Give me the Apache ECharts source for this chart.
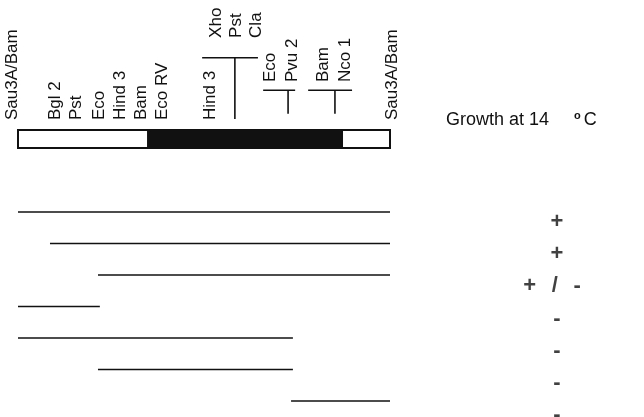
<!DOCTYPE html>
<html>
<head>
<meta charset="utf-8">
<script src="https://cdn.jsdelivr.net/npm/echarts@6/dist/echarts.min.js"></script>
<style>
  html, body { margin: 0; padding: 0; background: #fff; }
  #chart { width: 644px; height: 417px; }
</style>
</head>
<body>
<div id="chart"></div>
<script>
// map positions are in % of the cloned fragment (0 = left Sau3A/Bam end)
const mapSegStart = [0, 35, 87.1]
const mapSegEnd = [35, 87.1, 100]
const mapSegFilled = [0, 1, 0]

const siteNames = ['Sau3A/Bam', 'Bgl 2', 'Pst', 'Eco', 'Hind 3', 'Bam', 'Eco RV', 'Hind 3', 'Sau3A/Bam']
const sitePos = [-1.6, 9.9, 15.6, 21.8, 27.4, 33.1, 38.7, 51.6, 100.5]

// clustered sites: stem position, bracket span, labels
const clusterStem = [58.3, 72.6, 85.2]
const clusterFrom = [49.5, 65.9, 78.0]
const clusterTo = [64.5, 74.5, 89.8]
const clusterTier = [1, 2, 2]
const clusterNames = [['Xho', 'Pst', 'Cla'], ['Eco', 'Pvu 2'], ['Bam', 'Nco 1']]
const clusterPos = [[53.2, 58.6, 64.0], [67.7, 73.7], [82.0, 87.9]]

// subclones
const fragStart = [0, 8.6, 21.5, 0, 0, 21.5, 73.4]
const fragEnd = [100, 100, 100, 22, 73.9, 73.9, 100]
const growth = ['+', '+', '+ / -', '-', '-', '-', '-']

// heights above the map, in map-box units
const LABEL_BASE = 1.55
const TIER = {
  1: { bar: 5.0, text: 6.1, stemEnd: 1.6 },
  2: { bar: 3.2, text: 3.65, stemEnd: 1.9 }
}
const FONT = '"Liberation Sans", Arial, Helvetica, sans-serif'
const INK = '#111'

function vText (api, x, y, txt) {
  const p = api.coord([x, y])
  return {
    type: 'text',
    x: p[0],
    y: p[1],
    rotation: Math.PI / 2,
    style: {
      text: txt,
      fill: INK,
      font: '17px ' + FONT,
      align: 'left',
      verticalAlign: 'middle'
    }
  }
}

const chart = echarts.init(document.getElementById('chart'))

const mapData = mapSegStart.map((s, i) => [s, mapSegEnd[i], mapSegFilled[i]])
const siteData = sitePos.map((p, i) => [p, LABEL_BASE, i])
const clusterData = clusterStem.map((s, i) => [s, clusterFrom[i], clusterTo[i], i])
const fragData = fragStart.map((s, i) => [s, fragEnd[i], i + 1])
const growthData = growth.map((g, i) => {
  const item = { name: g, value: [0.5, i + 1] }
  if (g.length > 1) {
    item.label = {
      offset: [-5, 0],
      formatter: '{b|+}{g|  }{n|/}{g|  }{b|-}',
      rich: {
        b: { fontFamily: FONT, fontSize: 22, fontWeight: 'bold', color: INK },
        n: { fontFamily: FONT, fontSize: 22, color: INK },
        g: { fontFamily: FONT, fontSize: 28, color: INK }
      }
    }
  }
  return item
})

chart.setOption({
  animation: false,
  backgroundColor: '#fff',
  title: {
    left: 441,
    top: 105,
    text: '{a|Growth at 14     }{s|o}{a|C}',
    textStyle: {
      rich: {
        a: { fontFamily: FONT, fontSize: 18, color: INK, fontWeight: 'normal' },
        s: { fontFamily: FONT, fontSize: 11, color: INK, verticalAlign: 'top', padding: [0, 3, 9, 0] }
      }
    }
  },
  grid: [
    { left: 18, width: 372, top: 0, height: 148 },
    { left: 18, width: 372, top: 212, height: 189 },
    { left: 507, width: 100, top: 222, height: 193 }
  ],
  xAxis: [
    { gridIndex: 0, type: 'value', min: 0, max: 100, show: false },
    { gridIndex: 1, type: 'value', min: 0, max: 100, show: false },
    { gridIndex: 2, type: 'value', min: 0, max: 1, show: false }
  ],
  yAxis: [
    { gridIndex: 0, type: 'value', min: 0, max: 8.2, show: false },
    { gridIndex: 1, type: 'value', min: 1, max: 7, inverse: true, show: false },
    { gridIndex: 2, type: 'value', min: 1, max: 7, inverse: true, show: false }
  ],
  series: [
    {
      type: 'custom',
      xAxisIndex: 0,
      yAxisIndex: 0,
      data: mapData,
      renderItem: function (params, api) {
        const p0 = api.coord([api.value(0), 1])
        const p1 = api.coord([api.value(1), 0])
        return {
          type: 'rect',
          shape: { x: p0[0], y: p0[1], width: p1[0] - p0[0], height: p1[1] - p0[1] },
          style: { fill: api.value(2) ? INK : '#fff', stroke: INK, lineWidth: 2 }
        }
      }
    },
    {
      type: 'custom',
      xAxisIndex: 0,
      yAxisIndex: 0,
      data: siteData,
      renderItem: function (params, api) {
        return vText(api, api.value(0), api.value(1), siteNames[api.value(2)])
      }
    },
    {
      type: 'custom',
      xAxisIndex: 0,
      yAxisIndex: 0,
      data: clusterData,
      renderItem: function (params, api) {
        const i = api.value(3)
        const t = TIER[clusterTier[i]]
        const a = api.coord([api.value(1), t.bar])
        const b = api.coord([api.value(2), t.bar])
        const s0 = api.coord([api.value(0), t.bar])
        const s1 = api.coord([api.value(0), t.stemEnd])
        const lineStyle = { stroke: INK, lineWidth: 1.6 }
        const children = [
          { type: 'line', shape: { x1: a[0], y1: a[1], x2: b[0], y2: b[1] }, style: lineStyle },
          { type: 'line', shape: { x1: s0[0], y1: s0[1], x2: s1[0], y2: s1[1] }, style: lineStyle }
        ]
        clusterNames[i].forEach((n, k) => {
          children.push(vText(api, clusterPos[i][k], t.text, n))
        })
        return { type: 'group', children: children }
      }
    },
    {
      type: 'custom',
      xAxisIndex: 1,
      yAxisIndex: 1,
      data: fragData,
      renderItem: function (params, api) {
        const a = api.coord([api.value(0), api.value(2)])
        const b = api.coord([api.value(1), api.value(2)])
        return {
          type: 'line',
          shape: { x1: a[0], y1: a[1], x2: b[0], y2: b[1] },
          style: { stroke: INK, lineWidth: 1.7 }
        }
      }
    },
    {
      type: 'scatter',
      xAxisIndex: 2,
      yAxisIndex: 2,
      symbolSize: 1,
      itemStyle: { color: 'rgba(0,0,0,0)' },
      data: growthData,
      label: {
        show: true,
        position: 'inside',
        formatter: '{b}',
        color: INK,
        fontFamily: FONT,
        fontSize: 22,
        fontWeight: 'bold'
      }
    }
  ]
})
</script>
</body>
</html>
